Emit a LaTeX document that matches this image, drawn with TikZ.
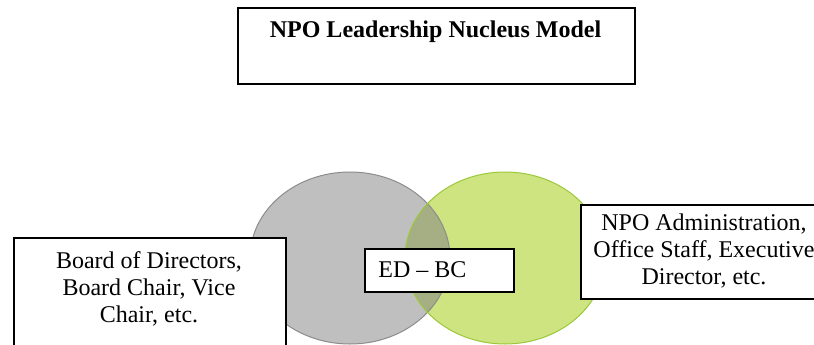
\documentclass[tikz,border=0pt]{standalone}
\usepackage{fontspec}
\setmainfont{Liberation Serif}
\usetikzlibrary{shapes.geometric}
\definecolor{grayfill}{HTML}{BFBFBF}
\definecolor{grayline}{HTML}{8C8C8C}
\definecolor{greenfill}{HTML}{CDE480}
\definecolor{greenline}{HTML}{9CC83A}
\definecolor{overlapfill}{HTML}{A6AF83}
\begin{document}
\begin{tikzpicture}[x=0.5pt,y=-0.5pt,
  frame/.style={draw=black, line width=0.9pt, fill=white, inner sep=0pt, anchor=north west},
  boxtext/.style={font=\fontsize{12}{13.35}\selectfont, align=center, inner sep=0pt},
  circ/.style={ellipse, minimum width=100pt, minimum height=86pt, inner sep=0pt, line width=0.5pt}
]
\useasboundingbox (0,0) rectangle (814,344);
\clip (0,0) rectangle (814,344);

% the two overlapping circles of the nucleus
\node[circ, fill=grayfill] (board) at (350,258) {};
\node[circ, fill=greenfill] (admin) at (505,258) {};
\begin{scope}
  \clip (505,258) ellipse [x radius=100, y radius=86];
  \fill[overlapfill] (350,258) ellipse [x radius=100, y radius=86];
\end{scope}
\draw[grayline, line width=0.5pt] (board.center) ellipse [x radius=100, y radius=86];
\draw[greenline, line width=0.5pt] (admin.center) ellipse [x radius=100, y radius=86];

% title
\node[frame, minimum width=198.5pt, minimum height=38pt] (titlebox) at (237,7) {};
\node[anchor=base, inner sep=0pt, font=\fontsize{12}{13.35}\selectfont\bfseries] (title) at (435.5,37) {NPO Leadership Nucleus Model};

% board side
\node[frame, minimum width=136pt, minimum height=62pt] (boardbox) at (13,237) {};
\node[boxtext, anchor=north] (boardtext) at (149,251.6) {Board of Directors,\\Board Chair, Vice\\Chair, etc.};

% administration side
\node[frame, minimum width=124pt, minimum height=47pt] (adminbox) at (580,204) {};
\node[boxtext, anchor=north] (admintext) at (704,213.6) {NPO Administration,\\Office Staff, Executive\\Director, etc.};

% shared centre
\node[frame, minimum width=74.5pt, minimum height=21.5pt] (edbox) at (364,248) {};
\node[anchor=base west, inner sep=0pt, font=\fontsize{12}{13.35}\selectfont] (edtext) at (378,277) {ED – BC};
\end{tikzpicture}
\end{document}
